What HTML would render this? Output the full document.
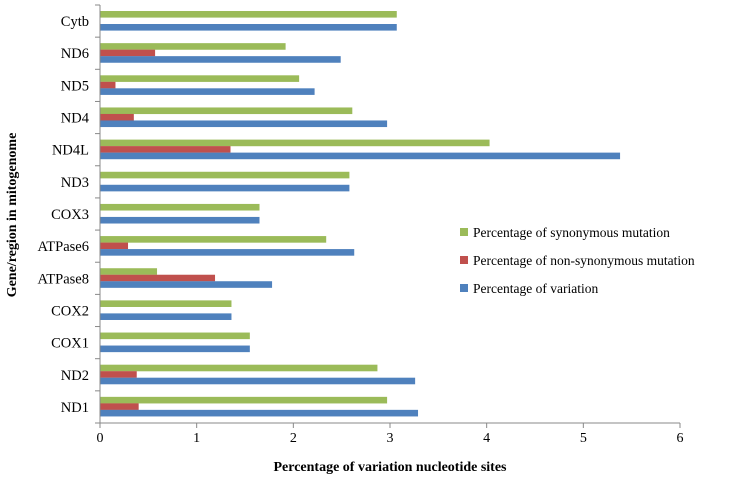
<!DOCTYPE html>
<html><head><meta charset="utf-8"><style>
body{margin:0;background:#fff;}
svg{display:block;font-family:"Liberation Serif",serif;}
</style></head><body>
<svg id="chart" width="752" height="481"></svg>
<script>
const categories=["Cytb","ND6","ND5","ND4","ND4L","ND3","COX3","ATPase6","ATPase8","COX2","COX1","ND2","ND1"];
const synonymous=[3.07,1.92,2.06,2.61,4.03,2.58,1.65,2.34,0.59,1.36,1.55,2.87,2.97];
const nonSynonymous=[0,0.57,0.16,0.35,1.35,0,0,0.29,1.19,0,0,0.38,0.40];
const variation=[3.07,2.49,2.22,2.97,5.38,2.58,1.65,2.63,1.78,1.36,1.55,3.26,3.29];
const xTicks=[0,1,2,3,4,5,6];
const NS="http://www.w3.org/2000/svg";
const svg=document.getElementById("chart");
const x0=100,x1=680,yTop=5,yBot=423;
const band=(yBot-yTop)/categories.length;
function xs(v){return x0+v/6*(x1-x0);}
function el(t,a,txt){const e=document.createElementNS(NS,t);for(const k in a)e.setAttribute(k,a[k]);if(txt!==undefined)e.textContent=txt;svg.appendChild(e);return e;}
const series=[[synonymous,"#9BBB59",6,"synonymous"],[nonSynonymous,"#C0504D",12.5,"non-synonymous"],[variation,"#4F81BD",19,"variation"]];
categories.forEach((c,i)=>{
  const top=yTop+i*band;
  series.forEach(s=>{
    const v=s[0][i];
    const r=el("rect",{x:x0,y:top+s[2],width:xs(v)-x0,height:6.6,fill:s[1]});
    
    
  });
  const t=el("text",{x:89,y:top+band/2+5,"text-anchor":"end","font-size":"14.5",fill:"#000"},c);
  
  
  const tk=el("line",{x1:95,x2:x0,y1:top,y2:top,stroke:"#888"});
  
  
});
const ya=el("line",{x1:x0,x2:x0,y1:yTop,y2:yBot,stroke:"#888"});


const xa=el("line",{x1:x0,x2:x1,y1:yBot,y2:yBot,stroke:"#888"});


const bt=el("line",{x1:95,x2:x0,y1:yBot,y2:yBot,stroke:"#888"});


xTicks.forEach(v=>{
  const l=el("line",{x1:xs(v),x2:xs(v),y1:yBot,y2:yBot+5,stroke:"#888"});
  
  
  const t=el("text",{x:xs(v),y:yBot+19,"text-anchor":"middle","font-size":"14"},String(v));
  
  
});
const xt=el("text",{x:390,y:471,"text-anchor":"middle","font-size":"14","font-weight":"bold"},"Percentage of variation  nucleotide sites");


const yt=el("text",{x:0,y:0,transform:"translate(16,215) rotate(-90)","text-anchor":"middle","font-size":"14","font-weight":"bold"},"Gene/region in mitogenome");


const legend=[["Percentage of synonymous mutation","#9BBB59",232],["Percentage of non-synonymous mutation","#C0504D",260],["Percentage of variation","#4F81BD",288]];
legend.forEach(l=>{
  const r=el("rect",{x:460,y:l[2]-4,width:8,height:8,fill:l[1]});
  
  
  const t=el("text",{x:473,y:l[2]+5,"font-size":"13.5"},l[0]);
  
  
});
</script>
</body></html>
